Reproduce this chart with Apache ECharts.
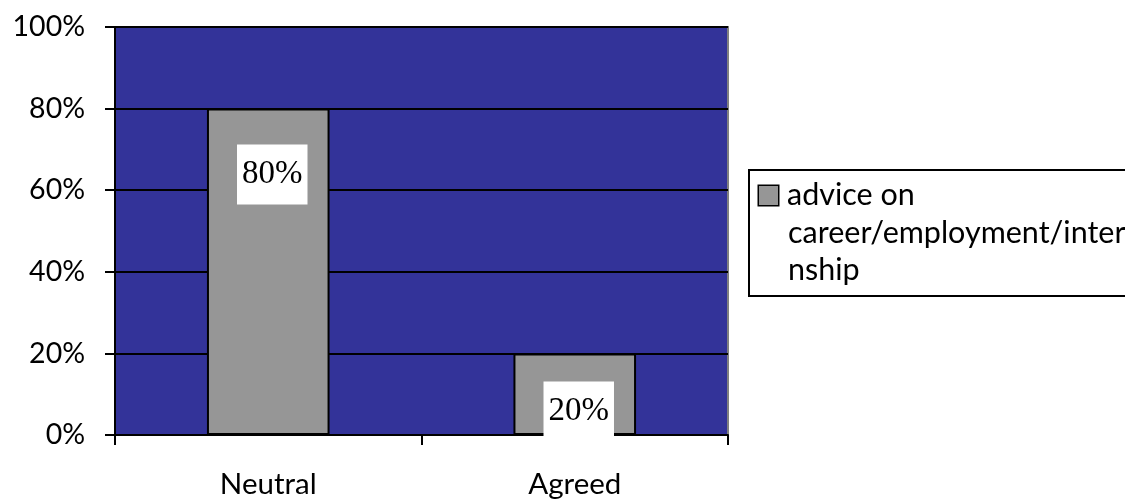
<!DOCTYPE html>
<html>
<head>
<meta charset="utf-8">
<script src="https://cdn.jsdelivr.net/npm/echarts@6/dist/echarts.min.js"></script>
<style>
  html, body { margin: 0; padding: 0; background: #fff; }
  #chart { width: 1125px; height: 499px; }
</style>
</head>
<body>
<div id="chart"></div>
<script>
// Survey answers: share of respondents per response category
const categories = ['Neutral', 'Agreed'];
const shares = [80, 20];
const seriesName = 'advice on career/employment/internship';
const legendLines = ['advice on', 'career/employment/inter', 'nship'];

// Value-axis range (percent)
const yMin = 0;
const yMax = 100;
const yStep = 20;

// Per-bar gap between bar top and its value box
const labelGaps = [36, 28];

const sans = 'Lato';
const serif = 'Liberation Serif';

const chart = echarts.init(document.getElementById('chart'), null, { renderer: 'canvas' });

chart.setOption({
  animation: false,
  backgroundColor: '#ffffff',
  grid: {
    left: 115, right: 397, top: 27, bottom: 62,
    show: true,
    backgroundColor: '#333399',
    borderColor: '#808080',
    borderWidth: 2
  },
  legend: {
    show: true,
    left: 749,
    top: 170,
    orient: 'vertical',
    padding: [10, 80, 10, 5],
    borderColor: '#000',
    borderWidth: 2,
    backgroundColor: '#fff',
    itemWidth: 0,
    itemHeight: 0,
    itemStyle: { opacity: 0, borderWidth: 0 },
    selectedMode: false,
    data: [seriesName],
    formatter: function () {
      return '{sq|}{gap|}{t|' + legendLines[0] + '}' +
        legendLines.slice(1).map(function (s) { return '\n{ind|}{t|' + s + '}'; }).join('');
    },
    textStyle: {
      rich: {
        sq: { width: 19, height: 19, backgroundColor: '#969696', borderColor: '#000', borderWidth: 1.5 },
        gap: { width: 9 },
        ind: { width: 29 },
        t: { fontFamily: sans, fontSize: 30.5, lineHeight: 37.5, color: '#000' }
      }
    }
  },
  xAxis: {
    type: 'category',
    data: categories,
    axisLine: { lineStyle: { color: '#000', width: 2 } },
    axisTick: { show: true, length: 10, lineStyle: { color: '#000', width: 2 } },
    axisLabel: { color: '#000', fontFamily: sans, fontSize: 29.5, margin: 34 },
    splitLine: { show: false }
  },
  yAxis: {
    type: 'value',
    min: yMin,
    max: yMax,
    interval: yStep,
    axisLine: { show: true, lineStyle: { color: '#000', width: 2 } },
    axisTick: { show: true, length: 10, lineStyle: { color: '#000', width: 2 } },
    axisLabel: {
      color: '#000', fontFamily: sans, fontSize: 28.5, margin: 30,
      formatter: '{value}%'
    },
    splitLine: { show: true, lineStyle: { color: '#000', width: 2 } }
  },
  series: [{
    name: seriesName,
    type: 'bar',
    barWidth: '40%',
    itemStyle: { color: '#969696', borderColor: '#000', borderWidth: 2 },
    data: shares.map(function (v, i) {
      return {
        value: v,
        label: { distance: labelGaps[i] }
      };
    }),
    label: {
      show: true,
      position: 'insideTop',
      offset: [4, 0],
      formatter: '{c}%',
      fontFamily: serif,
      fontSize: 33,
      color: '#000',
      backgroundColor: '#ffffff',
      padding: [0, 5],
      lineHeight: 60
    },
    z: 5
  }]
});
</script>
</body>
</html>
